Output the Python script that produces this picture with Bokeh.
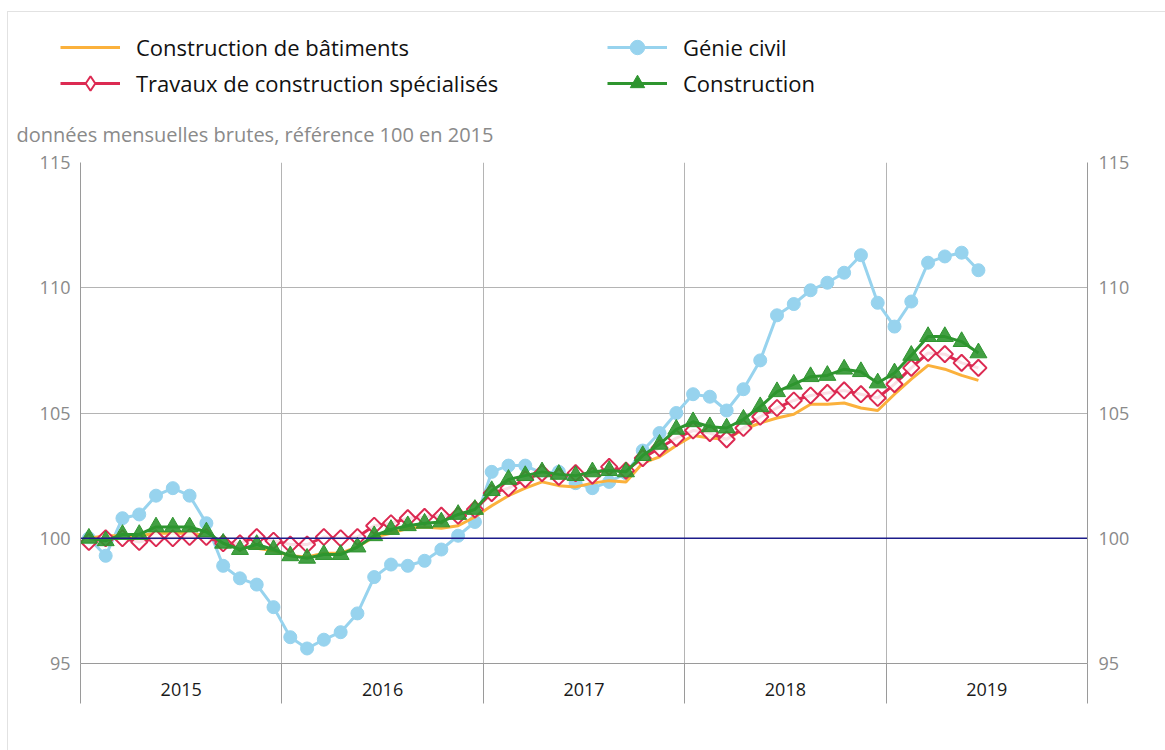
from bokeh.plotting import figure
from bokeh.layouts import column
from bokeh.models import (LinearAxis, FixedTicker, Legend, LegendItem, Span)
from bokeh.core.properties import value
from bokeh.embed import file_html
from bokeh.resources import INLINE

years = ["2015", "2016", "2017", "2018", "2019"]
y_ticks = [95, 100, 105, 110, 115]
subtitle = "données mensuelles brutes, référence 100 en 2015"
names = ["Construction de bâtiments", "Génie civil",
         "Travaux de construction spécialisés", "Construction"]

batiments = [100.0, 100.1, 100.1, 100.1, 100.2, 100.2, 100.2, 100.1, 99.8, 99.65, 99.6, 99.5,
             99.3, 99.25, 99.4, 99.4, 99.65, 100.05, 100.2, 100.4, 100.45, 100.4, 100.5, 100.85,
             101.3, 101.7, 102.0, 102.25, 102.1, 102.05, 102.2, 102.3, 102.25, 103.0, 103.25, 103.7,
             104.1, 104.0, 103.95, 104.35, 104.6, 104.8, 104.95, 105.35, 105.35, 105.4, 105.2, 105.1,
             105.75, 106.35, 106.9, 106.75, 106.5, 106.3]

genie_civil = [100.0, 99.3, 100.8, 100.95, 101.7, 102.0, 101.7, 100.6, 98.9, 98.4, 98.15, 97.25,
               96.05, 95.6, 95.95, 96.25, 97.0, 98.45, 98.95, 98.9, 99.1, 99.55, 100.1, 100.65,
               102.65, 102.9, 102.9, 102.6, 102.65, 102.2, 102.0, 102.25, 102.6, 103.5, 104.2, 105.0,
               105.75, 105.65, 105.1, 105.95, 107.1, 108.9, 109.35, 109.9, 110.2, 110.6, 111.3, 109.4,
               108.45, 109.45, 111.0, 111.25, 111.4, 110.7]

travaux = [99.85, 100.0, 100.0, 99.85, 100.0, 100.0, 100.05, 100.05, 99.8, 99.8, 100.05, 99.9,
           99.75, 99.75, 100.05, 100.0, 100.05, 100.5, 100.6, 100.8, 100.85, 100.9, 100.9, 101.15,
           101.8, 102.0, 102.35, 102.6, 102.45, 102.6, 102.5, 102.85, 102.7, 103.2, 103.6, 104.0,
           104.3, 104.2, 103.95, 104.4, 104.85, 105.2, 105.5, 105.7, 105.8, 105.9, 105.75, 105.6,
           106.15, 106.8, 107.4, 107.35, 107.0, 106.8]

construction = [100.0, 99.9, 100.15, 100.15, 100.45, 100.45, 100.45, 100.25, 99.8, 99.55, 99.75, 99.55,
                99.3, 99.2, 99.35, 99.35, 99.65, 100.1, 100.35, 100.5, 100.6, 100.65, 100.95, 101.15,
                101.9, 102.35, 102.5, 102.65, 102.55, 102.5, 102.65, 102.7, 102.65, 103.3, 103.75, 104.35,
                104.65, 104.45, 104.4, 104.75, 105.25, 105.85, 106.15, 106.45, 106.5, 106.75, 106.65, 106.2,
                106.6, 107.3, 108.05, 108.05, 107.85, 107.4]

months = [i + 0.5 for i in range(len(genie_civil))]

ORANGE = "#fbb13c"
BLUE = "#97d3ee"
RED = "#dc2a52"
GREEN = "#2e952f"
NAVY = "#1c1c8a"
GRID = "#b4b4b4"
AXIS = "#9a9a9a"
FONT = "Open Sans"

W = 1157
HEAD_H = 136
MAIN_H = 602

# ---------------- header: legend + subtitle ----------------
head = figure(width=W, height=HEAD_H, x_range=(0, W), y_range=(HEAD_H, 0),
              output_backend="svg", toolbar_location=None,
              x_axis_location=None, y_axis_location=None)
head.frame_align = False
head.min_border = 0
head.min_border_left = head.min_border_right = head.min_border_top = head.min_border_bottom = 0
head.grid.visible = False
head.outline_line_color = None
head.border_fill_color = "white"

# legend-only renderers (kept outside the visible range of the header)
ox, oy = [-500, -400], [-500, -500]
h_ol = head.line(ox, oy, line_color=ORANGE, line_width=3)
h_bl = head.line(ox, oy, line_color=BLUE, line_width=3)
h_bm = head.scatter(ox[:1], oy[:1], marker="circle", fill_color=BLUE, line_color=BLUE)
h_rl = head.line(ox, oy, line_color=RED, line_width=3)
h_rm = head.scatter(ox[:1], oy[:1], marker="diamond", fill_color="white", line_color=RED, line_width=2)
h_gl = head.line(ox, oy, line_color=GREEN, line_width=3)
h_gm = head.scatter(ox[:1], oy[:1], marker="triangle", fill_color=GREEN, line_color=GREEN)

def mk_legend(items, vx, vy):
    lg = Legend(items=items, location=(vx, vy), orientation="vertical")
    lg.label_text_font = FONT
    lg.label_text_font_size = "22px"
    lg.label_text_color = "#111111"
    lg.glyph_width = 60
    lg.glyph_height = 36
    lg.label_height = 36
    lg.label_standoff = 16
    lg.spacing = 0
    lg.padding = 0
    lg.margin = 0
    lg.border_line_color = None
    lg.background_fill_alpha = 0
    return lg

leg1 = mk_legend([LegendItem(label=names[0], renderers=[h_ol]),
                  LegendItem(label=names[2], renderers=[h_rl, h_rm])], 52, 47)
leg2 = mk_legend([LegendItem(label=names[1], renderers=[h_bl, h_bm]),
                  LegendItem(label=names[3], renderers=[h_gl, h_gm])], 599, 47)
head.add_layout(leg1, "center")
head.add_layout(leg2, "center")

head.text(x=[8], y=[122], text=[subtitle], text_font=value(FONT), text_font_size="20px",
          text_color="#8a8a8a", text_baseline="middle", text_align="left")

# ---------------- main chart ----------------
p = figure(width=W, height=MAIN_H, x_range=(0, 60), y_range=(95, 115),
           output_backend="svg", toolbar_location=None,
           x_axis_location=None, y_axis_location=None)
p.frame_align = False
p.min_border_left = 72
p.min_border_right = 78
p.min_border_top = 14
p.min_border_bottom = 87
p.outline_line_color = None
p.background_fill_color = "white"
p.border_fill_color = "white"

p.xgrid.ticker = FixedTicker(ticks=[12, 24, 36, 48])
p.ygrid.ticker = FixedTicker(ticks=[105, 110, 115])
for g in (p.xgrid, p.ygrid):
    g.grid_line_color = GRID
    g.grid_line_width = 1

def yaxis(standoff):
    ax = LinearAxis(ticker=FixedTicker(ticks=y_ticks))
    ax.major_tick_line_color = None
    ax.minor_tick_line_color = None
    ax.major_tick_out = 0
    ax.major_tick_in = 0
    ax.axis_line_color = AXIS
    ax.major_label_text_font = FONT
    ax.major_label_text_font_size = "18px"
    ax.major_label_text_color = "#8a8a8a"
    ax.major_label_standoff = standoff
    return ax

p.add_layout(yaxis(10), "left")
p.add_layout(yaxis(11), "right")

xax = LinearAxis(ticker=FixedTicker(ticks=[6, 18, 30, 42, 54], minor_ticks=[0, 12, 24, 36, 48, 60]))
xax.major_tick_line_color = None
xax.major_tick_out = 0
xax.major_tick_in = 0
xax.minor_tick_out = 40
xax.minor_tick_in = 0
xax.minor_tick_line_color = AXIS
xax.axis_line_color = AXIS
xax.major_label_overrides = {6 + 12 * i: y for i, y in enumerate(years)}
xax.major_label_text_font = FONT
xax.major_label_text_font_size = "18px"
xax.major_label_text_color = "#1a1a1a"
xax.major_label_standoff = -21
p.add_layout(xax, "below")

p.add_layout(Span(location=100, dimension="width", line_color=NAVY, line_width=1.5, level="glyph"))

p.line(months, genie_civil, line_color=BLUE, line_width=3)
p.scatter(months, genie_civil, marker="circle", size=13, fill_color=BLUE, line_color=BLUE)

p.line(months, batiments, line_color=ORANGE, line_width=3)

p.line(months, travaux, line_color=RED, line_width=3)
p.scatter(months, travaux, marker="square", angle=0.785398, size=11.5, fill_color="white",
          fill_alpha=0.85, line_color=RED, line_width=2)

p.line(months, construction, line_color=GREEN, line_width=3)
p.scatter(months, construction, marker="triangle", size=17, fill_color=GREEN,
          fill_alpha=0.9, line_color=GREEN)

layout = column(head, p, spacing=0,
                styles={"margin-left": "7px", "margin-top": "11px",
                        "border-left": "1px solid #e2e2e2", "border-top": "1px solid #e2e2e2"})

open("out.html", "w").write(file_html(layout, INLINE))
